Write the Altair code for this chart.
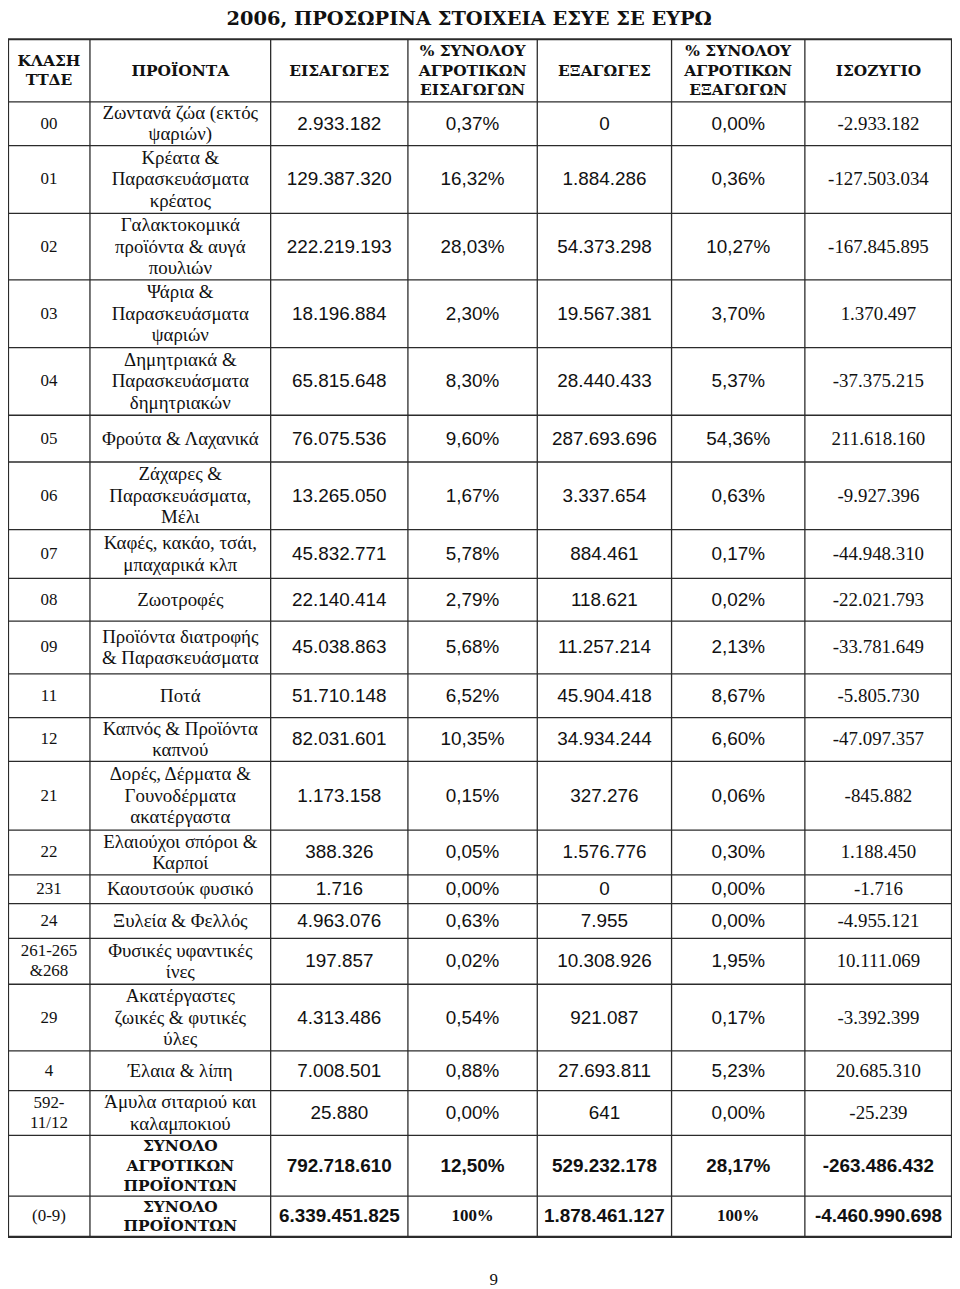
import altair as alt
import pandas as pd

# ---------------- data ----------------
title_text = "2006, ΠΡΟΣΩΡΙΝΑ ΣΤΟΙΧΕΙΑ ΕΣΥΕ ΣΕ ΕΥΡΩ"
headers = [
    "ΚΛΑΣΗ\nΤΤΔΕ",
    "ΠΡΟΪΟΝΤΑ",
    "ΕΙΣΑΓΩΓΕΣ",
    "% ΣΥΝΟΛΟΥ\nΑΓΡΟΤΙΚΩΝ\nΕΙΣΑΓΩΓΩΝ",
    "ΕΞΑΓΩΓΕΣ",
    "% ΣΥΝΟΛΟΥ\nΑΓΡΟΤΙΚΩΝ\nΕΞΑΓΩΓΩΝ",
    "ΙΣΟΖΥΓΙΟ",
]
codes = ["00", "01", "02", "03", "04", "05", "06", "07", "08", "09", "11", "12",
         "21", "22", "231", "24", "261-265\n&268", "29", "4", "592-\n11/12", "", "(0-9)"]
products = [
    "Ζωντανά ζώα (εκτός\nψαριών)",
    "Κρέατα &\nΠαρασκευάσματα\nκρέατος",
    "Γαλακτοκομικά\nπροϊόντα & αυγά\nπουλιών",
    "Ψάρια &\nΠαρασκευάσματα\nψαριών",
    "Δημητριακά &\nΠαρασκευάσματα\nδημητριακών",
    "Φρούτα & Λαχανικά",
    "Ζάχαρες &\nΠαρασκευάσματα,\nΜέλι",
    "Καφές, κακάο, τσάι,\nμπαχαρικά κλπ",
    "Ζωοτροφές",
    "Προϊόντα διατροφής\n& Παρασκευάσματα",
    "Ποτά",
    "Καπνός & Προϊόντα\nκαπνού",
    "Δορές, Δέρματα &\nΓουνοδέρματα\nακατέργαστα",
    "Ελαιούχοι σπόροι &\nΚαρποί",
    "Καουτσούκ φυσικό",
    "Ξυλεία & Φελλός",
    "Φυσικές υφαντικές\nίνες",
    "Ακατέργαστες\nζωικές & φυτικές\nύλες",
    "Έλαια & λίπη",
    "Άμυλα σιταριού και\nκαλαμποκιού",
    "ΣΥΝΟΛΟ\nΑΓΡΟΤΙΚΩΝ\nΠΡΟΪΟΝΤΩΝ",
    "ΣΥΝΟΛΟ\nΠΡΟΪΟΝΤΩΝ",
]
imports = ["2.933.182", "129.387.320", "222.219.193", "18.196.884", "65.815.648",
           "76.075.536", "13.265.050", "45.832.771", "22.140.414", "45.038.863",
           "51.710.148", "82.031.601", "1.173.158", "388.326", "1.716", "4.963.076",
           "197.857", "4.313.486", "7.008.501", "25.880", "792.718.610", "6.339.451.825"]
imports_pct = ["0,37%", "16,32%", "28,03%", "2,30%", "8,30%", "9,60%", "1,67%", "5,78%",
               "2,79%", "5,68%", "6,52%", "10,35%", "0,15%", "0,05%", "0,00%", "0,63%",
               "0,02%", "0,54%", "0,88%", "0,00%", "12,50%", "100%"]
exports = ["0", "1.884.286", "54.373.298", "19.567.381", "28.440.433", "287.693.696",
           "3.337.654", "884.461", "118.621", "11.257.214", "45.904.418", "34.934.244",
           "327.276", "1.576.776", "0", "7.955", "10.308.926", "921.087", "27.693.811",
           "641", "529.232.178", "1.878.461.127"]
exports_pct = ["0,00%", "0,36%", "10,27%", "3,70%", "5,37%", "54,36%", "0,63%", "0,17%",
               "0,02%", "2,13%", "8,67%", "6,60%", "0,06%", "0,30%", "0,00%", "0,00%",
               "1,95%", "0,17%", "5,23%", "0,00%", "28,17%", "100%"]
balance = ["-2.933.182", "-127.503.034", "-167.845.895", "1.370.497", "-37.375.215",
           "211.618.160", "-9.927.396", "-44.948.310", "-22.021.793", "-33.781.649",
           "-5.805.730", "-47.097.357", "-845.882", "1.188.450", "-1.716", "-4.955.121",
           "10.111.069", "-3.392.399", "20.685.310", "-25.239", "-263.486.432",
           "-4.460.990.698"]
row_kind = ["item"] * 20 + ["total", "total"]
page_number = "9"

# ---------------- layout (page grid units) ----------------
col_edges = [1, 84, 267, 406, 537, 673, 808, 957]
row_edges = [33, 96, 140, 208, 275, 343, 411, 458, 526, 575, 618, 671, 715, 759,
             828, 873, 902, 937, 983, 1050, 1090, 1135, 1196, 1237]
title_pos = (468, 13)
page_pos = (493, 1280)
outer_w, inner_w = 2.2, 1.3
line_color = "#2b2b2b"
text_color = "#111111"

styles = {
    "title": dict(font="DejaVu Serif", fontWeight="bold", fontSize=19.5, lineHeight=22),
    "head": dict(font="DejaVu Serif", fontWeight="bold", fontSize=15.5, lineHeight=20),
    "code": dict(font="Liberation Serif", fontSize=17, lineHeight=20),
    "prod": dict(font="Liberation Serif", fontSize=19, lineHeight=21.5),
    "prodbold": dict(font="DejaVu Serif", fontWeight="bold", fontSize=15.5, lineHeight=20),
    "num": dict(font="Liberation Sans", fontSize=19, lineHeight=22),
    "numbold": dict(font="Liberation Sans", fontWeight="bold", fontSize=19, lineHeight=22),
    "bal": dict(font="Liberation Serif", fontSize=19, lineHeight=22),
    "pctbold": dict(font="Liberation Serif", fontWeight="bold", fontSize=17, lineHeight=20),
    "page": dict(font="Liberation Serif", fontSize=17, lineHeight=20),
}

cx = [(a + b) / 2 for a, b in zip(col_edges[:-1], col_edges[1:])]
ry = [(a + b) / 2 for a, b in zip(row_edges[:-1], row_edges[1:])]

cells = []


def add(x, y, text, style):
    # first line placed so that the whole block is centred on y
    n = text.count("\n") + 1
    lh = styles[style]["lineHeight"]
    cells.append(dict(x=x, y=y - (n - 1) * lh / 2, text=text, style=style))


add(title_pos[0], title_pos[1], title_text, "title")
for j, h in enumerate(headers):
    add(cx[j], ry[0], h, "head")
for i in range(len(codes)):
    y = ry[i + 1]
    tot = row_kind[i] == "total"
    add(cx[0], y, codes[i], "code")
    add(cx[1], y, products[i], "prodbold" if tot else "prod")
    for j, col in zip(range(2, 6), [imports, imports_pct, exports, exports_pct]):
        t = col[i]
        if tot:
            s = "pctbold" if t == "100%" else "numbold"
        else:
            s = "num"
        add(cx[j], y, t, s)
    add(cx[6], y, balance[i], "numbold" if tot else "bal")
add(page_pos[0], page_pos[1], page_number, "page")
df = pd.DataFrame(cells)

hl = pd.DataFrame({
    "y": row_edges,
    "x": [col_edges[0]] * len(row_edges),
    "x2": [col_edges[-1]] * len(row_edges),
    "w": [outer_w if k in (0, len(row_edges) - 1) else inner_w for k in range(len(row_edges))],
})
vl = pd.DataFrame({
    "x": col_edges,
    "y": [row_edges[0]] * len(col_edges),
    "y2": [row_edges[-1]] * len(col_edges),
    "w": [outer_w if k in (0, len(col_edges) - 1) else inner_w for k in range(len(col_edges))],
})

W, H = 949, 1284
xs = alt.Scale(domain=[1, 957], nice=False, zero=False)
ys = alt.Scale(domain=[5, 1289], nice=False, zero=False, reverse=True)

layers = []
layers.append(
    alt.Chart(hl).mark_rule(color=line_color).encode(
        x=alt.X("x:Q", scale=xs, axis=None),
        x2="x2:Q",
        y=alt.Y("y:Q", scale=ys, axis=None),
        strokeWidth=alt.StrokeWidth("w:Q", scale=None),
    )
)
layers.append(
    alt.Chart(vl).mark_rule(color=line_color).encode(
        x=alt.X("x:Q", scale=xs, axis=None),
        y=alt.Y("y:Q", scale=ys, axis=None),
        y2="y2:Q",
        strokeWidth=alt.StrokeWidth("w:Q", scale=None),
    )
)
for k, v in styles.items():
    layers.append(
        alt.Chart(df)
        .transform_filter(alt.datum.style == k)
        .mark_text(align="center", baseline="middle", lineBreak="\n", color=text_color, **v)
        .encode(
            x=alt.X("x:Q", scale=xs, axis=None),
            y=alt.Y("y:Q", scale=ys, axis=None),
            text="text:N",
        )
    )

chart = (
    alt.layer(*layers)
    .properties(width=W, height=H, padding=0, autosize="none", background="white")
    .configure_view(strokeWidth=0)
)

chart.save("out.html", embed_options={"renderer": "svg", "actions": False})
